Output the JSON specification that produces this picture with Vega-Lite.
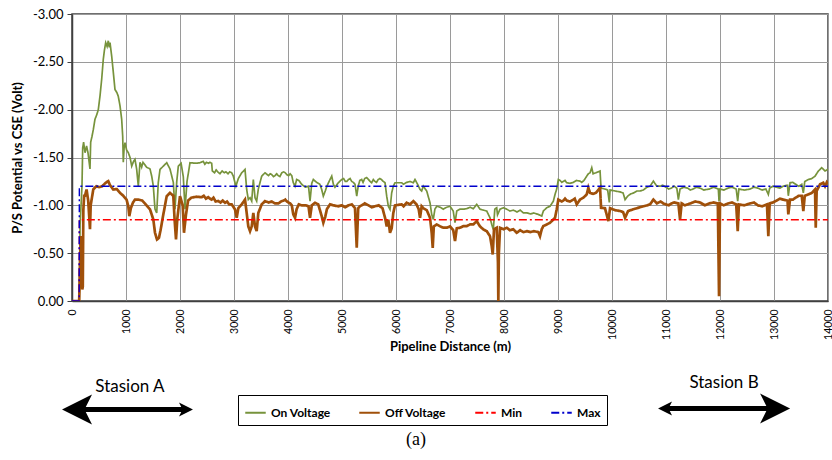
{
 "$schema": "https://vega.github.io/schema/vega-lite/v6.json",
 "width": 756, "height": 287,
 "autosize": {"type": "none"},
 "padding": {"left": 72, "top": 14, "right": 4, "bottom": 159},
 "background": "white",
 "config": {
  "font": "Lato",
  "view": {"stroke": "#404040", "strokeWidth": 1.5},
  "legend": {"orient": "none", "legendX": 166, "legendY": 381, "direction": "horizontal", "title": null, "strokeColor": "#000", "padding": 6, "symbolStrokeWidth": 2, "symbolSize": 420, "labelFontSize": 12, "labelFontWeight": "bold", "labelColor": "#000", "columnPadding": 24, "symbolType": "stroke"}
 },
 "datasets": {
  "on": [
   {"d":0,"v":0,"s":"On Voltage"},{"d":133,"v":0,"s":"On Voltage"},{"d":150,"v":-0.8,"s":"On Voltage"},{"d":185,"v":-1.2,"s":"On Voltage"},{"d":198,"v":-1.6,"s":"On Voltage"},{"d":215,"v":-1.66,"s":"On Voltage"},{"d":241,"v":-1.55,"s":"On Voltage"},{"d":270,"v":-1.62,"s":"On Voltage"},{"d":296,"v":-1.55,"s":"On Voltage"},{"d":333,"v":-1.38,"s":"On Voltage"},{"d":346,"v":-1.66,"s":"On Voltage"},{"d":370,"v":-1.72,"s":"On Voltage"},{"d":394,"v":-1.79,"s":"On Voltage"},{"d":426,"v":-1.9,"s":"On Voltage"},{"d":460,"v":-1.95,"s":"On Voltage"},{"d":487,"v":-2.0,"s":"On Voltage"},{"d":520,"v":-2.15,"s":"On Voltage"},{"d":550,"v":-2.32,"s":"On Voltage"},{"d":580,"v":-2.53,"s":"On Voltage"},{"d":600,"v":-2.62,"s":"On Voltage"},{"d":624,"v":-2.7,"s":"On Voltage"},{"d":650,"v":-2.66,"s":"On Voltage"},{"d":672,"v":-2.72,"s":"On Voltage"},{"d":690,"v":-2.65,"s":"On Voltage"},{"d":704,"v":-2.7,"s":"On Voltage"},{"d":735,"v":-2.56,"s":"On Voltage"},{"d":765,"v":-2.39,"s":"On Voltage"},{"d":796,"v":-2.21,"s":"On Voltage"},{"d":830,"v":-2.18,"s":"On Voltage"},{"d":857,"v":-2.14,"s":"On Voltage"},{"d":889,"v":-2.04,"s":"On Voltage"},{"d":920,"v":-1.9,"s":"On Voltage"},{"d":939,"v":-1.72,"s":"On Voltage"},{"d":950,"v":-1.45,"s":"On Voltage"},{"d":965,"v":-1.6,"s":"On Voltage"},{"d":982,"v":-1.655,"s":"On Voltage"},{"d":1010,"v":-1.58,"s":"On Voltage"},{"d":1043,"v":-1.55,"s":"On Voltage"},{"d":1075,"v":-1.5,"s":"On Voltage"},{"d":1106,"v":-1.41,"s":"On Voltage"},{"d":1140,"v":-1.46,"s":"On Voltage"},{"d":1167,"v":-1.48,"s":"On Voltage"},{"d":1198,"v":-1.375,"s":"On Voltage"},{"d":1228,"v":-1.2,"s":"On Voltage"},{"d":1259,"v":-1.45,"s":"On Voltage"},{"d":1290,"v":-1.4,"s":"On Voltage"},{"d":1315,"v":-1.45,"s":"On Voltage"},{"d":1380,"v":-1.4,"s":"On Voltage"},{"d":1445,"v":-1.38,"s":"On Voltage"},{"d":1476,"v":-1.305,"s":"On Voltage"},{"d":1506,"v":-1.2,"s":"On Voltage"},{"d":1537,"v":-0.96,"s":"On Voltage"},{"d":1569,"v":-0.92,"s":"On Voltage"},{"d":1598,"v":-1.24,"s":"On Voltage"},{"d":1630,"v":-1.375,"s":"On Voltage"},{"d":1691,"v":-1.41,"s":"On Voltage"},{"d":1754,"v":-1.445,"s":"On Voltage"},{"d":1815,"v":-1.38,"s":"On Voltage"},{"d":1876,"v":-1.24,"s":"On Voltage"},{"d":1907,"v":-0.96,"s":"On Voltage"},{"d":1940,"v":-1.25,"s":"On Voltage"},{"d":1969,"v":-1.41,"s":"On Voltage"},{"d":2020,"v":-1.44,"s":"On Voltage"},{"d":2061,"v":-1.3,"s":"On Voltage"},{"d":2093,"v":-0.96,"s":"On Voltage"},{"d":2130,"v":-1.25,"s":"On Voltage"},{"d":2185,"v":-1.445,"s":"On Voltage"},{"d":2300,"v":-1.44,"s":"On Voltage"},{"d":2370,"v":-1.445,"s":"On Voltage"},{"d":2460,"v":-1.43,"s":"On Voltage"},{"d":2524,"v":-1.44,"s":"On Voltage"},{"d":2587,"v":-1.44,"s":"On Voltage"},{"d":2598,"v":-1.36,"s":"On Voltage"},{"d":2700,"v":-1.35,"s":"On Voltage"},{"d":2850,"v":-1.35,"s":"On Voltage"},{"d":2958,"v":-1.34,"s":"On Voltage"},{"d":2987,"v":-1.305,"s":"On Voltage"},{"d":3019,"v":-1.236,"s":"On Voltage"},{"d":3035,"v":-1.2,"s":"On Voltage"},{"d":3080,"v":-1.28,"s":"On Voltage"},{"d":3143,"v":-1.34,"s":"On Voltage"},{"d":3204,"v":-1.375,"s":"On Voltage"},{"d":3235,"v":-1.166,"s":"On Voltage"},{"d":3265,"v":-1.06,"s":"On Voltage"},{"d":3297,"v":-1.08,"s":"On Voltage"},{"d":3328,"v":-1.044,"s":"On Voltage"},{"d":3358,"v":-1.27,"s":"On Voltage"},{"d":3389,"v":-1.08,"s":"On Voltage"},{"d":3420,"v":-1.044,"s":"On Voltage"},{"d":3450,"v":-1.17,"s":"On Voltage"},{"d":3513,"v":-1.305,"s":"On Voltage"},{"d":3574,"v":-1.34,"s":"On Voltage"},{"d":3640,"v":-1.31,"s":"On Voltage"},{"d":3700,"v":-1.32,"s":"On Voltage"},{"d":3760,"v":-1.31,"s":"On Voltage"},{"d":3820,"v":-1.31,"s":"On Voltage"},{"d":3884,"v":-1.34,"s":"On Voltage"},{"d":3950,"v":-1.34,"s":"On Voltage"},{"d":4010,"v":-1.31,"s":"On Voltage"},{"d":4070,"v":-1.31,"s":"On Voltage"},{"d":4098,"v":-1.236,"s":"On Voltage"},{"d":4130,"v":-1.2,"s":"On Voltage"},{"d":4160,"v":-1.27,"s":"On Voltage"},{"d":4200,"v":-1.26,"s":"On Voltage"},{"d":4254,"v":-1.22,"s":"On Voltage"},{"d":4320,"v":-1.19,"s":"On Voltage"},{"d":4380,"v":-1.2,"s":"On Voltage"},{"d":4408,"v":-1.044,"s":"On Voltage"},{"d":4440,"v":-1.23,"s":"On Voltage"},{"d":4469,"v":-1.27,"s":"On Voltage"},{"d":4530,"v":-1.24,"s":"On Voltage"},{"d":4590,"v":-1.22,"s":"On Voltage"},{"d":4624,"v":-1.166,"s":"On Voltage"},{"d":4654,"v":-1.096,"s":"On Voltage"},{"d":4690,"v":-1.15,"s":"On Voltage"},{"d":4720,"v":-1.2,"s":"On Voltage"},{"d":4778,"v":-1.27,"s":"On Voltage"},{"d":4810,"v":-1.305,"s":"On Voltage"},{"d":4840,"v":-1.22,"s":"On Voltage"},{"d":4870,"v":-1.19,"s":"On Voltage"},{"d":4932,"v":-1.236,"s":"On Voltage"},{"d":4995,"v":-1.27,"s":"On Voltage"},{"d":5060,"v":-1.25,"s":"On Voltage"},{"d":5120,"v":-1.27,"s":"On Voltage"},{"d":5180,"v":-1.25,"s":"On Voltage"},{"d":5241,"v":-1.22,"s":"On Voltage"},{"d":5273,"v":-1.096,"s":"On Voltage"},{"d":5300,"v":-1.2,"s":"On Voltage"},{"d":5365,"v":-1.27,"s":"On Voltage"},{"d":5420,"v":-1.28,"s":"On Voltage"},{"d":5490,"v":-1.27,"s":"On Voltage"},{"d":5550,"v":-1.236,"s":"On Voltage"},{"d":5610,"v":-1.25,"s":"On Voltage"},{"d":5670,"v":-1.27,"s":"On Voltage"},{"d":5730,"v":-1.27,"s":"On Voltage"},{"d":5797,"v":-1.236,"s":"On Voltage"},{"d":5828,"v":-1.096,"s":"On Voltage"},{"d":5858,"v":-0.99,"s":"On Voltage"},{"d":5889,"v":-0.957,"s":"On Voltage"},{"d":5920,"v":-1.13,"s":"On Voltage"},{"d":5950,"v":-1.2,"s":"On Voltage"},{"d":5982,"v":-1.236,"s":"On Voltage"},{"d":6040,"v":-1.236,"s":"On Voltage"},{"d":6106,"v":-1.236,"s":"On Voltage"},{"d":6140,"v":-1.22,"s":"On Voltage"},{"d":6198,"v":-1.24,"s":"On Voltage"},{"d":6260,"v":-1.25,"s":"On Voltage"},{"d":6321,"v":-1.236,"s":"On Voltage"},{"d":6352,"v":-1.27,"s":"On Voltage"},{"d":6400,"v":-1.22,"s":"On Voltage"},{"d":6445,"v":-1.166,"s":"On Voltage"},{"d":6475,"v":-1.15,"s":"On Voltage"},{"d":6506,"v":-1.2,"s":"On Voltage"},{"d":6569,"v":-1.149,"s":"On Voltage"},{"d":6630,"v":-1.027,"s":"On Voltage"},{"d":6661,"v":-0.905,"s":"On Voltage"},{"d":6691,"v":-0.852,"s":"On Voltage"},{"d":6720,"v":-0.96,"s":"On Voltage"},{"d":6754,"v":-0.99,"s":"On Voltage"},{"d":6820,"v":-0.98,"s":"On Voltage"},{"d":6876,"v":-0.96,"s":"On Voltage"},{"d":6940,"v":-0.98,"s":"On Voltage"},{"d":7001,"v":-0.99,"s":"On Voltage"},{"d":7060,"v":-0.94,"s":"On Voltage"},{"d":7093,"v":-0.818,"s":"On Voltage"},{"d":7125,"v":-0.94,"s":"On Voltage"},{"d":7186,"v":-0.96,"s":"On Voltage"},{"d":7250,"v":-0.96,"s":"On Voltage"},{"d":7310,"v":-0.965,"s":"On Voltage"},{"d":7371,"v":-0.98,"s":"On Voltage"},{"d":7432,"v":-0.965,"s":"On Voltage"},{"d":7495,"v":-1.01,"s":"On Voltage"},{"d":7555,"v":-0.96,"s":"On Voltage"},{"d":7617,"v":-0.95,"s":"On Voltage"},{"d":7680,"v":-0.94,"s":"On Voltage"},{"d":7741,"v":-0.87,"s":"On Voltage"},{"d":7773,"v":-0.8,"s":"On Voltage"},{"d":7802,"v":-0.748,"s":"On Voltage"},{"d":7830,"v":-0.96,"s":"On Voltage"},{"d":7865,"v":-0.975,"s":"On Voltage"},{"d":7880,"v":-0.9,"s":"On Voltage"},{"d":7927,"v":-0.96,"s":"On Voltage"},{"d":7990,"v":-0.975,"s":"On Voltage"},{"d":8051,"v":-0.96,"s":"On Voltage"},{"d":8173,"v":-0.95,"s":"On Voltage"},{"d":8300,"v":-0.95,"s":"On Voltage"},{"d":8421,"v":-0.922,"s":"On Voltage"},{"d":8550,"v":-0.92,"s":"On Voltage"},{"d":8636,"v":-0.905,"s":"On Voltage"},{"d":8699,"v":-0.887,"s":"On Voltage"},{"d":8728,"v":-0.94,"s":"On Voltage"},{"d":8791,"v":-0.975,"s":"On Voltage"},{"d":8853,"v":-0.99,"s":"On Voltage"},{"d":8914,"v":-1.044,"s":"On Voltage"},{"d":8945,"v":-1.114,"s":"On Voltage"},{"d":8976,"v":-1.17,"s":"On Voltage"},{"d":9006,"v":-1.27,"s":"On Voltage"},{"d":9038,"v":-1.26,"s":"On Voltage"},{"d":9099,"v":-1.25,"s":"On Voltage"},{"d":9162,"v":-1.236,"s":"On Voltage"},{"d":9284,"v":-1.24,"s":"On Voltage"},{"d":9408,"v":-1.253,"s":"On Voltage"},{"d":9480,"v":-1.26,"s":"On Voltage"},{"d":9532,"v":-1.305,"s":"On Voltage"},{"d":9562,"v":-1.33,"s":"On Voltage"},{"d":9593,"v":-1.34,"s":"On Voltage"},{"d":9625,"v":-1.393,"s":"On Voltage"},{"d":9650,"v":-1.33,"s":"On Voltage"},{"d":9700,"v":-1.34,"s":"On Voltage"},{"d":9779,"v":-1.358,"s":"On Voltage"},{"d":9797,"v":-1.18,"s":"On Voltage"},{"d":9870,"v":-1.17,"s":"On Voltage"},{"d":9920,"v":-1.16,"s":"On Voltage"},{"d":9951,"v":-1.03,"s":"On Voltage"},{"d":9964,"v":-1.16,"s":"On Voltage"},{"d":10056,"v":-1.15,"s":"On Voltage"},{"d":10150,"v":-1.14,"s":"On Voltage"},{"d":10205,"v":-1.13,"s":"On Voltage"},{"d":10242,"v":-1.06,"s":"On Voltage"},{"d":10297,"v":-1.1,"s":"On Voltage"},{"d":10400,"v":-1.13,"s":"On Voltage"},{"d":10519,"v":-1.15,"s":"On Voltage"},{"d":10650,"v":-1.19,"s":"On Voltage"},{"d":10705,"v":-1.2,"s":"On Voltage"},{"d":10766,"v":-1.253,"s":"On Voltage"},{"d":10830,"v":-1.2,"s":"On Voltage"},{"d":10890,"v":-1.2,"s":"On Voltage"},{"d":11000,"v":-1.19,"s":"On Voltage"},{"d":11100,"v":-1.18,"s":"On Voltage"},{"d":11200,"v":-1.18,"s":"On Voltage"},{"d":11229,"v":-1.06,"s":"On Voltage"},{"d":11260,"v":-1.17,"s":"On Voltage"},{"d":11400,"v":-1.18,"s":"On Voltage"},{"d":11500,"v":-1.17,"s":"On Voltage"},{"d":11630,"v":-1.18,"s":"On Voltage"},{"d":11800,"v":-1.17,"s":"On Voltage"},{"d":11969,"v":-1.17,"s":"On Voltage"},{"d":11982,"v":-1.044,"s":"On Voltage"},{"d":12000,"v":-1.17,"s":"On Voltage"},{"d":12150,"v":-1.18,"s":"On Voltage"},{"d":12300,"v":-1.17,"s":"On Voltage"},{"d":12328,"v":-1.044,"s":"On Voltage"},{"d":12350,"v":-1.17,"s":"On Voltage"},{"d":12556,"v":-1.17,"s":"On Voltage"},{"d":12700,"v":-1.18,"s":"On Voltage"},{"d":12850,"v":-1.17,"s":"On Voltage"},{"d":12895,"v":-1.114,"s":"On Voltage"},{"d":12920,"v":-1.18,"s":"On Voltage"},{"d":13050,"v":-1.19,"s":"On Voltage"},{"d":13167,"v":-1.2,"s":"On Voltage"},{"d":13250,"v":-1.21,"s":"On Voltage"},{"d":13265,"v":-1.1,"s":"On Voltage"},{"d":13297,"v":-1.236,"s":"On Voltage"},{"d":13400,"v":-1.22,"s":"On Voltage"},{"d":13514,"v":-1.22,"s":"On Voltage"},{"d":13543,"v":-1.13,"s":"On Voltage"},{"d":13570,"v":-1.25,"s":"On Voltage"},{"d":13636,"v":-1.27,"s":"On Voltage"},{"d":13700,"v":-1.28,"s":"On Voltage"},{"d":13760,"v":-1.305,"s":"On Voltage"},{"d":13821,"v":-1.358,"s":"On Voltage"},{"d":13883,"v":-1.393,"s":"On Voltage"},{"d":13945,"v":-1.36,"s":"On Voltage"},{"d":13977,"v":-1.37,"s":"On Voltage"},{"d":14000,"v":-1.38,"s":"On Voltage"},
   {"d":2430,"v":-1.46,"s":"On Voltage"},{"d":2490,"v":-1.45,"s":"On Voltage"},{"d":2555,"v":-1.45,"s":"On Voltage"},{"d":2640,"v":-1.34,"s":"On Voltage"},{"d":2670,"v":-1.37,"s":"On Voltage"},{"d":2740,"v":-1.33,"s":"On Voltage"},{"d":2780,"v":-1.36,"s":"On Voltage"},{"d":2820,"v":-1.34,"s":"On Voltage"},{"d":2890,"v":-1.33,"s":"On Voltage"},{"d":2920,"v":-1.35,"s":"On Voltage"},
   {"d":3670,"v":-1.33,"s":"On Voltage"},{"d":3730,"v":-1.3,"s":"On Voltage"},{"d":3790,"v":-1.33,"s":"On Voltage"},{"d":3850,"v":-1.3,"s":"On Voltage"},{"d":3920,"v":-1.35,"s":"On Voltage"},{"d":3980,"v":-1.32,"s":"On Voltage"},{"d":4040,"v":-1.33,"s":"On Voltage"},
   {"d":5030,"v":-1.28,"s":"On Voltage"},{"d":5090,"v":-1.25,"s":"On Voltage"},{"d":5150,"v":-1.28,"s":"On Voltage"},{"d":5210,"v":-1.24,"s":"On Voltage"},{"d":5330,"v":-1.26,"s":"On Voltage"},{"d":5390,"v":-1.24,"s":"On Voltage"},{"d":5455,"v":-1.29,"s":"On Voltage"},{"d":5520,"v":-1.25,"s":"On Voltage"},{"d":5580,"v":-1.27,"s":"On Voltage"},{"d":5640,"v":-1.24,"s":"On Voltage"},{"d":5700,"v":-1.28,"s":"On Voltage"},{"d":5765,"v":-1.25,"s":"On Voltage"},
   {"d":8110,"v":-0.94,"s":"On Voltage"},{"d":8240,"v":-0.93,"s":"On Voltage"},{"d":8360,"v":-0.92,"s":"On Voltage"},{"d":8490,"v":-0.91,"s":"On Voltage"},
   {"d":9070,"v":-1.24,"s":"On Voltage"},{"d":9130,"v":-1.26,"s":"On Voltage"},{"d":9220,"v":-1.23,"s":"On Voltage"},{"d":9340,"v":-1.26,"s":"On Voltage"},{"d":9440,"v":-1.24,"s":"On Voltage"},
   {"d":10350,"v":-1.12,"s":"On Voltage"},{"d":10460,"v":-1.15,"s":"On Voltage"},{"d":10580,"v":-1.16,"s":"On Voltage"},{"d":10940,"v":-1.21,"s":"On Voltage"},{"d":11050,"v":-1.17,"s":"On Voltage"},{"d":11150,"v":-1.2,"s":"On Voltage"},{"d":11330,"v":-1.19,"s":"On Voltage"},{"d":11450,"v":-1.16,"s":"On Voltage"},{"d":11560,"v":-1.19,"s":"On Voltage"},{"d":11700,"v":-1.16,"s":"On Voltage"},{"d":11880,"v":-1.19,"s":"On Voltage"},{"d":12070,"v":-1.16,"s":"On Voltage"},{"d":12220,"v":-1.19,"s":"On Voltage"},{"d":12450,"v":-1.16,"s":"On Voltage"},{"d":12630,"v":-1.19,"s":"On Voltage"},{"d":12780,"v":-1.16,"s":"On Voltage"},{"d":12980,"v":-1.2,"s":"On Voltage"},{"d":13110,"v":-1.18,"s":"On Voltage"},{"d":13350,"v":-1.24,"s":"On Voltage"},{"d":13460,"v":-1.2,"s":"On Voltage"}
  ],
  "off": [
   {"d":0,"v":0,"s":"Off Voltage"},{"d":133,"v":0,"s":"Off Voltage"},{"d":150,"v":-0.4,"s":"Off Voltage"},{"d":165,"v":-0.68,"s":"Off Voltage"},{"d":180,"v":-0.3,"s":"Off Voltage"},{"d":190,"v":-0.12,"s":"Off Voltage"},{"d":200,"v":-0.15,"s":"Off Voltage"},{"d":210,"v":-0.95,"s":"Off Voltage"},{"d":225,"v":-1.1,"s":"Off Voltage"},{"d":241,"v":-1.1,"s":"Off Voltage"},{"d":270,"v":-1.166,"s":"Off Voltage"},{"d":300,"v":-1.05,"s":"Off Voltage"},{"d":333,"v":-0.75,"s":"Off Voltage"},{"d":346,"v":-1.0,"s":"Off Voltage"},{"d":394,"v":-1.166,"s":"Off Voltage"},{"d":450,"v":-1.2,"s":"Off Voltage"},{"d":500,"v":-1.19,"s":"Off Voltage"},{"d":560,"v":-1.2,"s":"Off Voltage"},{"d":624,"v":-1.236,"s":"Off Voltage"},{"d":672,"v":-1.253,"s":"Off Voltage"},{"d":704,"v":-1.21,"s":"Off Voltage"},{"d":765,"v":-1.166,"s":"Off Voltage"},{"d":830,"v":-1.17,"s":"Off Voltage"},{"d":889,"v":-1.13,"s":"Off Voltage"},{"d":950,"v":-1.1,"s":"Off Voltage"},{"d":1010,"v":-1.06,"s":"Off Voltage"},{"d":1043,"v":-0.99,"s":"Off Voltage"},{"d":1061,"v":-0.887,"s":"Off Voltage"},{"d":1090,"v":-0.97,"s":"Off Voltage"},{"d":1130,"v":-1.03,"s":"Off Voltage"},{"d":1167,"v":-1.06,"s":"Off Voltage"},{"d":1228,"v":-1.06,"s":"Off Voltage"},{"d":1300,"v":-1.05,"s":"Off Voltage"},{"d":1350,"v":-1.02,"s":"Off Voltage"},{"d":1445,"v":-0.957,"s":"Off Voltage"},{"d":1506,"v":-0.852,"s":"Off Voltage"},{"d":1537,"v":-0.713,"s":"Off Voltage"},{"d":1574,"v":-0.643,"s":"Off Voltage"},{"d":1610,"v":-0.66,"s":"Off Voltage"},{"d":1640,"v":-0.74,"s":"Off Voltage"},{"d":1680,"v":-0.87,"s":"Off Voltage"},{"d":1754,"v":-1.096,"s":"Off Voltage"},{"d":1815,"v":-1.13,"s":"Off Voltage"},{"d":1876,"v":-1.1,"s":"Off Voltage"},{"d":1900,"v":-0.85,"s":"Off Voltage"},{"d":1926,"v":-0.643,"s":"Off Voltage"},{"d":1950,"v":-0.86,"s":"Off Voltage"},{"d":2000,"v":-1.096,"s":"Off Voltage"},{"d":2050,"v":-1.0,"s":"Off Voltage"},{"d":2074,"v":-0.713,"s":"Off Voltage"},{"d":2110,"v":-0.9,"s":"Off Voltage"},{"d":2150,"v":-1.05,"s":"Off Voltage"},{"d":2210,"v":-1.08,"s":"Off Voltage"},{"d":2300,"v":-1.09,"s":"Off Voltage"},{"d":2402,"v":-1.085,"s":"Off Voltage"},{"d":2524,"v":-1.085,"s":"Off Voltage"},{"d":2587,"v":-1.06,"s":"Off Voltage"},{"d":2709,"v":-1.045,"s":"Off Voltage"},{"d":2834,"v":-1.027,"s":"Off Voltage"},{"d":2958,"v":-1.01,"s":"Off Voltage"},{"d":3019,"v":-0.957,"s":"Off Voltage"},{"d":3050,"v":-0.87,"s":"Off Voltage"},{"d":3080,"v":-0.97,"s":"Off Voltage"},{"d":3143,"v":-1.01,"s":"Off Voltage"},{"d":3204,"v":-1.06,"s":"Off Voltage"},{"d":3235,"v":-0.92,"s":"Off Voltage"},{"d":3265,"v":-0.78,"s":"Off Voltage"},{"d":3297,"v":-0.73,"s":"Off Voltage"},{"d":3328,"v":-0.78,"s":"Off Voltage"},{"d":3358,"v":-0.92,"s":"Off Voltage"},{"d":3389,"v":-0.78,"s":"Off Voltage"},{"d":3420,"v":-0.73,"s":"Off Voltage"},{"d":3450,"v":-0.92,"s":"Off Voltage"},{"d":3513,"v":-1.01,"s":"Off Voltage"},{"d":3574,"v":-1.044,"s":"Off Voltage"},{"d":3640,"v":-1.03,"s":"Off Voltage"},{"d":3760,"v":-1.02,"s":"Off Voltage"},{"d":3884,"v":-1.044,"s":"Off Voltage"},{"d":3950,"v":-1.06,"s":"Off Voltage"},{"d":4010,"v":-1.03,"s":"Off Voltage"},{"d":4070,"v":-1.0,"s":"Off Voltage"},{"d":4098,"v":-0.905,"s":"Off Voltage"},{"d":4130,"v":-0.87,"s":"Off Voltage"},{"d":4160,"v":-0.96,"s":"Off Voltage"},{"d":4200,"v":-1.01,"s":"Off Voltage"},{"d":4254,"v":-1.0,"s":"Off Voltage"},{"d":4330,"v":-1.0,"s":"Off Voltage"},{"d":4380,"v":-0.99,"s":"Off Voltage"},{"d":4408,"v":-0.87,"s":"Off Voltage"},{"d":4440,"v":-1.0,"s":"Off Voltage"},{"d":4500,"v":-1.027,"s":"Off Voltage"},{"d":4560,"v":-1.01,"s":"Off Voltage"},{"d":4624,"v":-0.887,"s":"Off Voltage"},{"d":4654,"v":-0.818,"s":"Off Voltage"},{"d":4690,"v":-0.88,"s":"Off Voltage"},{"d":4720,"v":-0.96,"s":"Off Voltage"},{"d":4778,"v":-1.01,"s":"Off Voltage"},{"d":4840,"v":-1.0,"s":"Off Voltage"},{"d":4932,"v":-0.99,"s":"Off Voltage"},{"d":4995,"v":-1.0,"s":"Off Voltage"},{"d":5120,"v":-1.0,"s":"Off Voltage"},{"d":5241,"v":-0.97,"s":"Off Voltage"},{"d":5273,"v":-0.556,"s":"Off Voltage"},{"d":5300,"v":-0.97,"s":"Off Voltage"},{"d":5365,"v":-1.0,"s":"Off Voltage"},{"d":5490,"v":-1.0,"s":"Off Voltage"},{"d":5610,"v":-0.99,"s":"Off Voltage"},{"d":5750,"v":-0.97,"s":"Off Voltage"},{"d":5797,"v":-0.87,"s":"Off Voltage"},{"d":5828,"v":-0.78,"s":"Off Voltage"},{"d":5858,"v":-0.85,"s":"Off Voltage"},{"d":5889,"v":-0.713,"s":"Off Voltage"},{"d":5920,"v":-0.76,"s":"Off Voltage"},{"d":5950,"v":-0.92,"s":"Off Voltage"},{"d":5982,"v":-1.0,"s":"Off Voltage"},{"d":6106,"v":-1.01,"s":"Off Voltage"},{"d":6140,"v":-0.99,"s":"Off Voltage"},{"d":6198,"v":-1.027,"s":"Off Voltage"},{"d":6260,"v":-1.01,"s":"Off Voltage"},{"d":6321,"v":-1.044,"s":"Off Voltage"},{"d":6380,"v":-1.01,"s":"Off Voltage"},{"d":6420,"v":-0.96,"s":"Off Voltage"},{"d":6445,"v":-0.87,"s":"Off Voltage"},{"d":6475,"v":-0.99,"s":"Off Voltage"},{"d":6506,"v":-0.97,"s":"Off Voltage"},{"d":6569,"v":-0.95,"s":"Off Voltage"},{"d":6630,"v":-0.87,"s":"Off Voltage"},{"d":6661,"v":-0.713,"s":"Off Voltage"},{"d":6680,"v":-0.556,"s":"Off Voltage"},{"d":6700,"v":-0.78,"s":"Off Voltage"},{"d":6754,"v":-0.8,"s":"Off Voltage"},{"d":6820,"v":-0.78,"s":"Off Voltage"},{"d":6876,"v":-0.766,"s":"Off Voltage"},{"d":6940,"v":-0.766,"s":"Off Voltage"},{"d":7001,"v":-0.78,"s":"Off Voltage"},{"d":7060,"v":-0.74,"s":"Off Voltage"},{"d":7093,"v":-0.626,"s":"Off Voltage"},{"d":7125,"v":-0.76,"s":"Off Voltage"},{"d":7186,"v":-0.766,"s":"Off Voltage"},{"d":7250,"v":-0.783,"s":"Off Voltage"},{"d":7310,"v":-0.783,"s":"Off Voltage"},{"d":7371,"v":-0.8,"s":"Off Voltage"},{"d":7432,"v":-0.8,"s":"Off Voltage"},{"d":7495,"v":-0.835,"s":"Off Voltage"},{"d":7555,"v":-0.78,"s":"Off Voltage"},{"d":7617,"v":-0.748,"s":"Off Voltage"},{"d":7680,"v":-0.73,"s":"Off Voltage"},{"d":7741,"v":-0.678,"s":"Off Voltage"},{"d":7773,"v":-0.573,"s":"Off Voltage"},{"d":7791,"v":-0.486,"s":"Off Voltage"},{"d":7815,"v":-0.75,"s":"Off Voltage"},{"d":7865,"v":-0.766,"s":"Off Voltage"},{"d":7888,"v":-0.4,"s":"Off Voltage"},{"d":7895,"v":0.0,"s":"Off Voltage"},{"d":7905,"v":-0.5,"s":"Off Voltage"},{"d":7927,"v":-0.766,"s":"Off Voltage"},{"d":7990,"v":-0.75,"s":"Off Voltage"},{"d":8051,"v":-0.766,"s":"Off Voltage"},{"d":8173,"v":-0.75,"s":"Off Voltage"},{"d":8236,"v":-0.713,"s":"Off Voltage"},{"d":8300,"v":-0.74,"s":"Off Voltage"},{"d":8421,"v":-0.73,"s":"Off Voltage"},{"d":8550,"v":-0.73,"s":"Off Voltage"},{"d":8636,"v":-0.72,"s":"Off Voltage"},{"d":8667,"v":-0.678,"s":"Off Voltage"},{"d":8699,"v":-0.75,"s":"Off Voltage"},{"d":8728,"v":-0.783,"s":"Off Voltage"},{"d":8791,"v":-0.8,"s":"Off Voltage"},{"d":8853,"v":-0.818,"s":"Off Voltage"},{"d":8914,"v":-0.852,"s":"Off Voltage"},{"d":8945,"v":-0.87,"s":"Off Voltage"},{"d":8976,"v":-0.957,"s":"Off Voltage"},{"d":9006,"v":-1.06,"s":"Off Voltage"},{"d":9038,"v":-1.05,"s":"Off Voltage"},{"d":9099,"v":-1.05,"s":"Off Voltage"},{"d":9162,"v":-1.05,"s":"Off Voltage"},{"d":9284,"v":-1.06,"s":"Off Voltage"},{"d":9347,"v":-1.01,"s":"Off Voltage"},{"d":9408,"v":-1.06,"s":"Off Voltage"},{"d":9470,"v":-1.08,"s":"Off Voltage"},{"d":9532,"v":-1.114,"s":"Off Voltage"},{"d":9562,"v":-1.184,"s":"Off Voltage"},{"d":9593,"v":-1.13,"s":"Off Voltage"},{"d":9650,"v":-1.12,"s":"Off Voltage"},{"d":9700,"v":-1.13,"s":"Off Voltage"},{"d":9779,"v":-1.184,"s":"Off Voltage"},{"d":9797,"v":-0.975,"s":"Off Voltage"},{"d":9870,"v":-0.97,"s":"Off Voltage"},{"d":9933,"v":-0.835,"s":"Off Voltage"},{"d":9964,"v":-0.97,"s":"Off Voltage"},{"d":10056,"v":-0.95,"s":"Off Voltage"},{"d":10150,"v":-0.94,"s":"Off Voltage"},{"d":10205,"v":-0.93,"s":"Off Voltage"},{"d":10242,"v":-0.87,"s":"Off Voltage"},{"d":10297,"v":-0.94,"s":"Off Voltage"},{"d":10400,"v":-0.96,"s":"Off Voltage"},{"d":10519,"v":-0.98,"s":"Off Voltage"},{"d":10650,"v":-1.0,"s":"Off Voltage"},{"d":10705,"v":-1.01,"s":"Off Voltage"},{"d":10766,"v":-1.06,"s":"Off Voltage"},{"d":10830,"v":-1.02,"s":"Off Voltage"},{"d":10950,"v":-1.02,"s":"Off Voltage"},{"d":11100,"v":-1.02,"s":"Off Voltage"},{"d":11229,"v":-1.02,"s":"Off Voltage"},{"d":11260,"v":-0.852,"s":"Off Voltage"},{"d":11290,"v":-1.02,"s":"Off Voltage"},{"d":11450,"v":-1.02,"s":"Off Voltage"},{"d":11630,"v":-1.03,"s":"Off Voltage"},{"d":11800,"v":-1.02,"s":"Off Voltage"},{"d":11960,"v":-1.02,"s":"Off Voltage"},{"d":11982,"v":-0.05,"s":"Off Voltage"},{"d":12000,"v":-1.02,"s":"Off Voltage"},{"d":12150,"v":-1.02,"s":"Off Voltage"},{"d":12300,"v":-1.01,"s":"Off Voltage"},{"d":12328,"v":-0.73,"s":"Off Voltage"},{"d":12350,"v":-1.01,"s":"Off Voltage"},{"d":12556,"v":-1.02,"s":"Off Voltage"},{"d":12700,"v":-1.0,"s":"Off Voltage"},{"d":12870,"v":-1.01,"s":"Off Voltage"},{"d":12895,"v":-0.678,"s":"Off Voltage"},{"d":12920,"v":-1.02,"s":"Off Voltage"},{"d":13050,"v":-1.05,"s":"Off Voltage"},{"d":13167,"v":-1.06,"s":"Off Voltage"},{"d":13250,"v":-1.05,"s":"Off Voltage"},{"d":13265,"v":-0.905,"s":"Off Voltage"},{"d":13297,"v":-1.06,"s":"Off Voltage"},{"d":13400,"v":-1.08,"s":"Off Voltage"},{"d":13514,"v":-1.1,"s":"Off Voltage"},{"d":13543,"v":-0.94,"s":"Off Voltage"},{"d":13570,"v":-1.1,"s":"Off Voltage"},{"d":13636,"v":-1.114,"s":"Off Voltage"},{"d":13700,"v":-1.13,"s":"Off Voltage"},{"d":13760,"v":-1.166,"s":"Off Voltage"},{"d":13773,"v":-0.766,"s":"Off Voltage"},{"d":13790,"v":-1.15,"s":"Off Voltage"},{"d":13852,"v":-1.22,"s":"Off Voltage"},{"d":13913,"v":-1.236,"s":"Off Voltage"},{"d":13945,"v":-1.2,"s":"Off Voltage"},{"d":13977,"v":-1.24,"s":"Off Voltage"},{"d":14000,"v":-1.22,"s":"Off Voltage"},
   {"d":2440,"v":-1.1,"s":"Off Voltage"},{"d":2480,"v":-1.07,"s":"Off Voltage"},{"d":2555,"v":-1.07,"s":"Off Voltage"},{"d":2620,"v":-1.08,"s":"Off Voltage"},{"d":2660,"v":-1.04,"s":"Off Voltage"},{"d":2750,"v":-1.03,"s":"Off Voltage"},{"d":2790,"v":-1.05,"s":"Off Voltage"},{"d":2870,"v":-1.04,"s":"Off Voltage"},{"d":2910,"v":-1.01,"s":"Off Voltage"},
   {"d":3700,"v":-1.04,"s":"Off Voltage"},{"d":3820,"v":-1.02,"s":"Off Voltage"},{"d":3920,"v":-1.05,"s":"Off Voltage"},{"d":3980,"v":-1.04,"s":"Off Voltage"},{"d":4040,"v":-1.02,"s":"Off Voltage"},
   {"d":5060,"v":-0.98,"s":"Off Voltage"},{"d":5180,"v":-1.01,"s":"Off Voltage"},{"d":5330,"v":-0.99,"s":"Off Voltage"},{"d":5420,"v":-1.02,"s":"Off Voltage"},{"d":5550,"v":-0.98,"s":"Off Voltage"},{"d":5680,"v":-1.0,"s":"Off Voltage"},
   {"d":8110,"v":-0.74,"s":"Off Voltage"},{"d":8360,"v":-0.72,"s":"Off Voltage"},{"d":8490,"v":-0.72,"s":"Off Voltage"},
   {"d":9070,"v":-1.04,"s":"Off Voltage"},{"d":9130,"v":-1.07,"s":"Off Voltage"},{"d":9220,"v":-1.04,"s":"Off Voltage"},{"d":9310,"v":-1.07,"s":"Off Voltage"},
   {"d":10350,"v":-0.95,"s":"Off Voltage"},{"d":10460,"v":-0.97,"s":"Off Voltage"},{"d":10580,"v":-0.99,"s":"Off Voltage"},{"d":10900,"v":-1.04,"s":"Off Voltage"},{"d":11050,"v":-1.0,"s":"Off Voltage"},{"d":11150,"v":-1.03,"s":"Off Voltage"},{"d":11350,"v":-1.0,"s":"Off Voltage"},{"d":11540,"v":-1.04,"s":"Off Voltage"},{"d":11720,"v":-1.0,"s":"Off Voltage"},{"d":11880,"v":-1.03,"s":"Off Voltage"},{"d":12070,"v":-1.0,"s":"Off Voltage"},{"d":12220,"v":-1.03,"s":"Off Voltage"},{"d":12450,"v":-1.0,"s":"Off Voltage"},{"d":12630,"v":-1.03,"s":"Off Voltage"},{"d":12780,"v":-0.99,"s":"Off Voltage"},{"d":12980,"v":-1.03,"s":"Off Voltage"},{"d":13110,"v":-1.07,"s":"Off Voltage"},{"d":13350,"v":-1.06,"s":"Off Voltage"},{"d":13460,"v":-1.1,"s":"Off Voltage"}
  ],
  "lim": [
   {"d":0,"v":0,"s":"Min"},{"d":133,"v":0,"s":"Min"},{"d":136,"v":-0.85,"s":"Min"},{"d":14000,"v":-0.85,"s":"Min"},
   {"d":0,"v":0,"s":"Max"},{"d":133,"v":0,"s":"Max"},{"d":136,"v":-1.2,"s":"Max"},{"d":14000,"v":-1.2,"s":"Max"}
  ]
 },
 "layer": [
  {
   "data": {"name": "on"},
   "mark": {"type": "line", "strokeWidth": 1.7, "clip": true},
   "encoding": {
    "x": {"field": "d", "type": "quantitative", "scale": {"domain": [0, 14000], "nice": false, "zero": false},
     "axis": {"title": "Pipeline Distance (m)", "values": [0,500,1000,1500,2000,2500,3000,3500,4000,4500,5000,5500,6000,6500,7000,7500,8000,8500,9000,9500,10000,10500,11000,11500,12000,12500,13000,13500,14000],
      "labelExpr": "datum.value % 1000 === 0 ? format(datum.value, 'd') : ''", "labelAngle": 270, "labelAlign": "right", "labelBaseline": "middle", "labelPadding": 8, "ticks": false, "grid": true, "gridColor": "#9a9a9a", "gridWidth": 1, "domainColor": "#404040", "domainWidth": 1.5, "labelFontSize": 10.5, "labelColor": "#000", "labelOverlap": false, "labelFlush": false, "titleFontWeight": "bold", "titleFontSize": 13, "titleColor": "#000", "titlePadding": 1}},
    "y": {"field": "v", "type": "quantitative", "scale": {"domain": [-3, 0], "reverse": true, "nice": false, "zero": false},
     "axis": {"title": "P/S Potential vs CSE (Volt)", "values": [-3,-2.5,-2,-1.5,-1,-0.5,0],
      "labelExpr": "(datum.value < 0 ? '-' : '') + format(abs(datum.value), '.2f')", "tickSize": 5, "tickColor": "#404040", "grid": true, "gridColor": "#9a9a9a", "gridWidth": 1, "domainColor": "#404040", "domainWidth": 1.5, "labelFontSize": 13, "labelColor": "#000", "labelPadding": 4, "titleFontWeight": "bold", "titleFontSize": 13, "titleColor": "#000", "titlePadding": 8}},
    "color": {"field": "s", "type": "nominal", "scale": {"domain": ["On Voltage", "Off Voltage", "Min", "Max"], "range": ["#77933C", "#A0500A", "#FF0000", "#0000CC"]}, "legend": {"title": null}},
    "strokeDash": {"field": "s", "type": "nominal", "scale": {"domain": ["On Voltage", "Off Voltage", "Min", "Max"], "range": [[1, 0], [1, 0], [8, 3, 2, 3], [8, 3, 2, 3]]}, "legend": {"title": null}}
   }
  },
  {
   "data": {"name": "off"},
   "mark": {"type": "line", "strokeWidth": 2.7, "clip": true},
   "encoding": {
    "x": {"field": "d", "type": "quantitative"},
    "y": {"field": "v", "type": "quantitative"},
    "color": {"field": "s", "type": "nominal"},
    "strokeDash": {"field": "s", "type": "nominal"}
   }
  },
  {
   "data": {"name": "lim"},
   "mark": {"type": "line", "strokeWidth": 1.4, "clip": true},
   "encoding": {
    "x": {"field": "d", "type": "quantitative"},
    "y": {"field": "v", "type": "quantitative"},
    "color": {"field": "s", "type": "nominal"},
    "strokeDash": {"field": "s", "type": "nominal"}
   }
  },
  {
   "data": {"values": [{}]},
   "mark": {"type": "rule", "color": "black", "strokeWidth": 5},
   "encoding": {"x": {"datum": 90}, "x2": {"datum": 2140}, "y": {"datum": 1.135}}
  },
  {
   "data": {"values": [{}]},
   "mark": {"type": "rule", "color": "black", "strokeWidth": 5},
   "encoding": {"x": {"datum": 10990}, "x2": {"datum": 13020}, "y": {"datum": 1.124}}
  },
  {
   "data": {"values": [{}]},
   "mark": {"type": "point", "shape": "M -1 0 L 1 -1 L 0.5 0 L 1 1 Z", "filled": true, "color": "black", "opacity": 1, "size": 900},
   "encoding": {"x": {"datum": 93}, "y": {"datum": 1.135}}
  },
  {
   "data": {"values": [{}]},
   "mark": {"type": "point", "shape": "M 1 0 L -1 -1 L -0.5 0 L -1 1 Z", "filled": true, "color": "black", "opacity": 1, "size": 196},
   "encoding": {"x": {"datum": 2111}, "y": {"datum": 1.135}}
  },
  {
   "data": {"values": [{}]},
   "mark": {"type": "point", "shape": "M -1 0 L 1 -1 L 0.5 0 L 1 1 Z", "filled": true, "color": "black", "opacity": 1, "size": 196},
   "encoding": {"x": {"datum": 10982}, "y": {"datum": 1.124}}
  },
  {
   "data": {"values": [{}]},
   "mark": {"type": "point", "shape": "M 1 0 L -1 -1 L -0.5 0 L -1 1 Z", "filled": true, "color": "black", "opacity": 1, "size": 900},
   "encoding": {"x": {"datum": 13020}, "y": {"datum": 1.124}}
  },
  {
   "data": {"values": [{}]},
   "mark": {"type": "text", "text": "Stasion A", "font": "Lato", "fontSize": 17, "color": "black", "align": "center", "baseline": "middle"},
   "encoding": {"x": {"datum": 1074}, "y": {"datum": 0.894}}
  },
  {
   "data": {"values": [{}]},
   "mark": {"type": "text", "text": "Stasion B", "font": "Lato", "fontSize": 17, "color": "black", "align": "center", "baseline": "middle"},
   "encoding": {"x": {"datum": 12075}, "y": {"datum": 0.853}}
  },
  {
   "data": {"values": [{}]},
   "mark": {"type": "text", "text": "(a)", "font": "Liberation Serif", "fontSize": 18, "color": "black", "align": "center", "baseline": "middle"},
   "encoding": {"x": {"datum": 6371}, "y": {"datum": 1.449}}
  }
 ]
}
